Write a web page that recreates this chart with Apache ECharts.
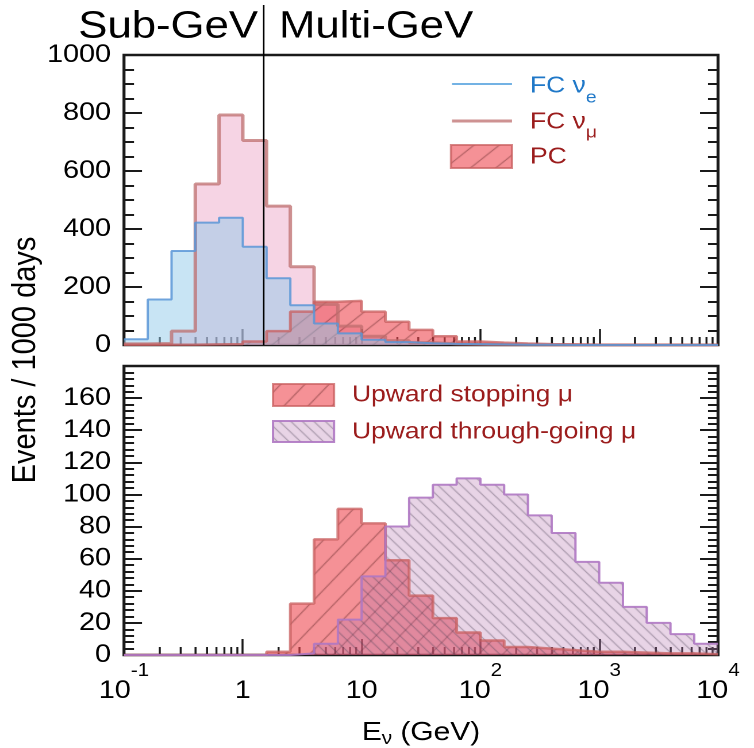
<!DOCTYPE html>
<html>
<head>
<meta charset="utf-8">
<script src="https://cdn.jsdelivr.net/npm/echarts@6/dist/echarts.min.js"></script>
<style>
  html, body { margin: 0; padding: 0; background: #fff; overflow: hidden; }
  #stage { width: 754px; height: 748px; overflow: hidden; }
  #chart { width: 656px; height: 748px; transform-origin: 0 0; }
</style>
</head>
<body>
<div id="stage"><div id="chart"></div></div>
<script>
// Neutrino energy bin edges in GeV (five bins per decade)
const binEdges = [0.1, 0.1585, 0.2512, 0.3981, 0.631, 1, 1.585, 2.512, 3.981, 6.31,
                  10, 15.85, 25.12, 39.81, 63.1, 100, 158.5, 251.2, 398.1, 631,
                  1000, 1585, 2512, 3981, 6310, 10000];

// Events / 1000 days in each bin
const fcNuE    = [20, 157, 324, 422, 439, 339, 230, 137, 74, 40, 18, 10, 6, 4, 3, 2, 1, 1, 0, 0, 0, 0, 0, 0, 0];
const fcNuMu   = [4, 5, 48, 555, 793, 705, 479, 270, 140, 65, 30, 15, 8, 4, 2, 1, 1, 0, 0, 0, 0, 0, 0, 0, 0];
const pcEvents = [1, 1, 1, 2, 3, 12, 48, 115, 149, 152, 115, 80, 52, 30, 12, 8, 5, 3, 2, 1, 1, 1, 1, 0, 0];
const upStop   = [0, 0, 0, 0, 0, 0, 2, 32, 72, 91, 82, 59, 37, 23, 14, 9, 5, 4, 3, 2, 2, 1.5, 1, 1, 0.5];
const upThru   = [0, 0, 0, 0, 0, 0, 0, 1, 7, 22, 49, 80, 98, 106, 110, 106, 100, 87, 76, 58, 45, 30, 20, 13, 7];

// Axis tick labels
const xTickBase = ['10', '1', '10', '10', '10', '10'];
const xTickExp  = ['-1', '', '', '2', '3', '4'];
const yLabelsTop = [0, 200, 400, 600, 800, 1000];
const yLabelsBottom = [0, 20, 40, 60, 80, 100, 120, 140, 160];
const decades = [0.1, 1, 10, 100, 1000];
const mantissas = [2, 3, 4, 5, 6, 7, 8, 9];

// Boundary between the Sub-GeV and Multi-GeV samples (GeV)
const gevSplit = 1.5;

// The figure is drawn on a narrower canvas and stretched horizontally to the page width
const SX = 754 / 656;
document.getElementById('chart').style.transform = 'scaleX(' + SX + ')';
const X = v => v / SX;

const FONT = '"Liberation Sans", Arial, Helvetica, sans-serif';
const INK = '#1a1a1a';

function hatch(w, h, bg, ink, lw, rising) {
  const c = document.createElement('canvas');
  c.width = w; c.height = h;
  const g = c.getContext('2d');
  g.fillStyle = bg;
  g.fillRect(0, 0, w, h);
  g.strokeStyle = ink;
  g.lineWidth = lw;
  g.beginPath();
  for (let k = -1; k <= 1; k++) {
    const o = k * w;
    if (rising) { g.moveTo(o, h); g.lineTo(o + w, 0); }
    else { g.moveTo(o, 0); g.lineTo(o + w, h); }
  }
  g.stroke();
  return { image: c, repeat: 'repeat' };
}

const RED_FILL = 'rgba(238,72,80,0.6)';
const RED_EDGE = 'rgba(200,95,95,0.75)';
const RED_INK = 'rgba(80,25,25,0.6)';
const PURPLE_EDGE = 'rgba(175,120,195,0.9)';
const pcPattern = hatch(22, 20, RED_FILL, RED_INK, 1, true);
const stopPattern = hatch(21, 25, RED_FILL, RED_INK, 1, true);
const thruPattern = hatch(10, 11, 'rgba(185,120,178,0.32)', 'rgba(80,70,90,0.6)', 1, false);

const steps = vals => binEdges.map((e, i) => [e, vals[Math.min(i, vals.length - 1)]]);

const LEFT = X(124), WIDTH = X(718) - X(124);

function logAxis(gridIndex, withLabels) {
  return {
    type: 'log', logBase: 10, gridIndex, min: 0.1, max: 10000, position: 'bottom',
    axisLine: { show: false }, splitLine: { show: false },
    axisTick: { show: true, inside: true, length: 16, lineStyle: { color: INK, width: 2 / SX } },
    axisLabel: withLabels ? {
      show: true, margin: 6, showMinLabel: true, showMaxLabel: true, hideOverlap: false,
      formatter: v => {
        const i = Math.round(Math.log10(v)) + 1;
        return xTickExp[i] ? '{b|' + xTickBase[i] + '}{e|' + xTickExp[i] + '}' : '{b|' + xTickBase[i] + '}';
      },
      rich: {
        b: { fontSize: 25, lineHeight: 60, fontFamily: FONT, color: '#000' },
        e: { fontSize: 18, lineHeight: 20, padding: [0, 0, 40, 0], fontFamily: FONT, color: '#000' }
      }
    } : { show: false }
  };
}

function valAxis(gridIndex, max, interval, minorSplit, position, labels) {
  return {
    type: 'value', gridIndex, min: 0, max, interval, position,
    axisLine: { show: false }, splitLine: { show: false },
    axisTick: { show: true, inside: true, length: X(18), lineStyle: { color: INK, width: 2 } },
    minorTick: { show: true, splitNumber: minorSplit, length: X(10), lineStyle: { color: INK, width: 2 } },
    axisLabel: labels ? {
      show: true, margin: X(13), fontSize: 25, fontFamily: FONT, color: '#000',
      formatter: v => (labels.indexOf(v) >= 0 ? String(v) : '')
    } : { show: false }
  };
}

function histo(name, xi, vals, lineColor, lineWidth, fill) {
  return {
    name, type: 'line', xAxisIndex: xi, yAxisIndex: xi, step: 'end', symbol: 'none',
    data: steps(vals), silent: true, z: 3,
    lineStyle: { color: lineColor, width: lineWidth },
    areaStyle: { color: fill, opacity: 1 }
  };
}

function minorX(xi) {
  const ticks = [];
  decades.forEach(d => mantissas.forEach(m => ticks.push([d * m, 0])));
  return {
    type: 'custom', xAxisIndex: xi, yAxisIndex: xi, data: ticks, silent: true, z: 1,
    renderItem: (p, api) => {
      const pt = api.coord([api.value(0), 0]);
      return { type: 'line', shape: { x1: pt[0], y1: pt[1], x2: pt[0], y2: pt[1] - 8 },
               style: { stroke: INK, lineWidth: 2 / SX } };
    }
  };
}

const richTxt = (size, color) => ({ fontSize: size, fontFamily: FONT, fill: color, color });

const graphics = [
  { id: 'sub', type: 'text', x: X(258), y: 27, z: 50,
    style: { text: 'Sub-GeV', font: '38px ' + FONT, fill: '#000', align: 'right', verticalAlign: 'middle' } },
  { id: 'multi', type: 'text', x: X(279), y: 27, z: 50,
    style: { text: 'Multi-GeV', font: '38px ' + FONT, fill: '#000', align: 'left', verticalAlign: 'middle' } },
  { id: 'ytitle', type: 'text', x: X(26), y: 360, rotation: Math.PI / 2, z: 50,
    style: { text: 'Events / 1000 days', font: '29px ' + FONT, fill: '#000', align: 'center', verticalAlign: 'middle' } },
  { id: 'xtitle', type: 'text', x: X(421), y: 733, z: 50,
    style: { text: '{m|E}{s|ν}{m| (GeV)}', align: 'center', verticalAlign: 'middle',
      rich: { m: richTxt(26, '#000'), s: Object.assign(richTxt(18, '#000'), { padding: [12, 0, 0, 0] }) } } },
  // upper legend
  { id: 'l1line', type: 'line', z: 50, shape: { x1: X(452), y1: 84, x2: X(512), y2: 84 },
    style: { stroke: 'rgba(100,170,225,0.9)', lineWidth: 2 } },
  { id: 'l1txt', type: 'text', x: X(530), y: 86, z: 50,
    style: { text: '{m|FC ν}{s|e}', verticalAlign: 'middle',
      rich: { m: richTxt(23, '#1f78c8'), s: Object.assign(richTxt(17, '#1f78c8'), { padding: [24, 0, 0, 0] }) } } },
  { id: 'l2line', type: 'line', z: 50, shape: { x1: X(452), y1: 121, x2: X(512), y2: 121 },
    style: { stroke: 'rgba(190,110,110,0.75)', lineWidth: 3 } },
  { id: 'l2txt', type: 'text', x: X(530), y: 122, z: 50,
    style: { text: '{m|FC ν}{s|μ}', verticalAlign: 'middle',
      rich: { m: richTxt(23, '#9b1c1c'), s: Object.assign(richTxt(17, '#9b1c1c'), { padding: [22, 0, 0, 0] }) } } },
  { id: 'l3box', type: 'rect', z: 50, shape: { x: X(451), y: 145, width: X(512) - X(451), height: 23 },
    style: { fill: pcPattern, stroke: RED_EDGE, lineWidth: 2 } },
  { id: 'l3txt', type: 'text', x: X(530), y: 157, z: 50,
    style: { text: 'PC', font: '23px ' + FONT, fill: '#9b1c1c', verticalAlign: 'middle' } },
  // lower legend
  { id: 'l4box', type: 'rect', z: 50, shape: { x: X(273), y: 384, width: X(334) - X(273), height: 22 },
    style: { fill: stopPattern, stroke: RED_EDGE, lineWidth: 2 } },
  { id: 'l4txt', type: 'text', x: X(352), y: 395, z: 50,
    style: { text: 'Upward stopping μ', font: '23px ' + FONT, fill: '#9b1c1c', verticalAlign: 'middle' } },
  { id: 'l5box', type: 'rect', z: 50, shape: { x: X(273), y: 421, width: X(334) - X(273), height: 21 },
    style: { fill: thruPattern, stroke: PURPLE_EDGE, lineWidth: 2 } },
  { id: 'l5txt', type: 'text', x: X(352), y: 432, z: 50,
    style: { text: 'Upward through-going μ', font: '23px ' + FONT, fill: '#9b1c1c', verticalAlign: 'middle' } }
];

const option = {
  animation: false,
  backgroundColor: '#fff',
  grid: [
    { left: LEFT, top: 55, width: WIDTH, height: 290, show: true, borderColor: INK, borderWidth: 2.6,
      backgroundColor: 'transparent', containLabel: false, outerBoundsMode: 'none' },
    { left: LEFT, top: 366, width: WIDTH, height: 289, show: true, borderColor: INK, borderWidth: 2.6,
      backgroundColor: 'transparent', containLabel: false, outerBoundsMode: 'none' }
  ],
  xAxis: [logAxis(0, false), logAxis(1, true)],
  yAxis: [
    valAxis(0, 1000, 200, 4, 'left', yLabelsTop),
    valAxis(1, 180, 20, 5, 'left', yLabelsBottom),
    valAxis(0, 1000, 200, 4, 'right', null),
    valAxis(1, 180, 20, 5, 'right', null)
  ],
  series: [
    minorX(0),
    minorX(1),
    histo('FC νμ', 0, fcNuMu, 'rgba(190,110,110,0.75)', 3, 'rgba(236,160,196,0.45)'),
    histo('PC', 0, pcEvents, RED_EDGE, 2.5, pcPattern),
    histo('FC νe', 0, fcNuE, 'rgba(90,150,215,0.85)', 2, 'rgba(145,201,233,0.5)'),
    histo('Upward stopping μ', 1, upStop, RED_EDGE, 2.5, stopPattern),
    histo('Upward through-going μ', 1, upThru, PURPLE_EDGE, 2, thruPattern)
  ],
  graphic: { elements: graphics }
};

const chart = echarts.init(document.getElementById('chart'), null, { devicePixelRatio: 2 });
chart.setOption(option);

// Vertical divider at the Sub-GeV / Multi-GeV boundary, placed through the axis scale
const xs = chart.convertToPixel({ xAxisIndex: 0 }, gevSplit);
const y0 = chart.convertToPixel({ yAxisIndex: 0 }, 0);
chart.setOption({
  graphic: { elements: [{ id: 'split', type: 'line', z: 60,
    shape: { x1: xs, y1: 5, x2: xs, y2: y0 }, style: { stroke: '#000', lineWidth: 1.5 / SX } }] }
});
</script>
</body>
</html>
